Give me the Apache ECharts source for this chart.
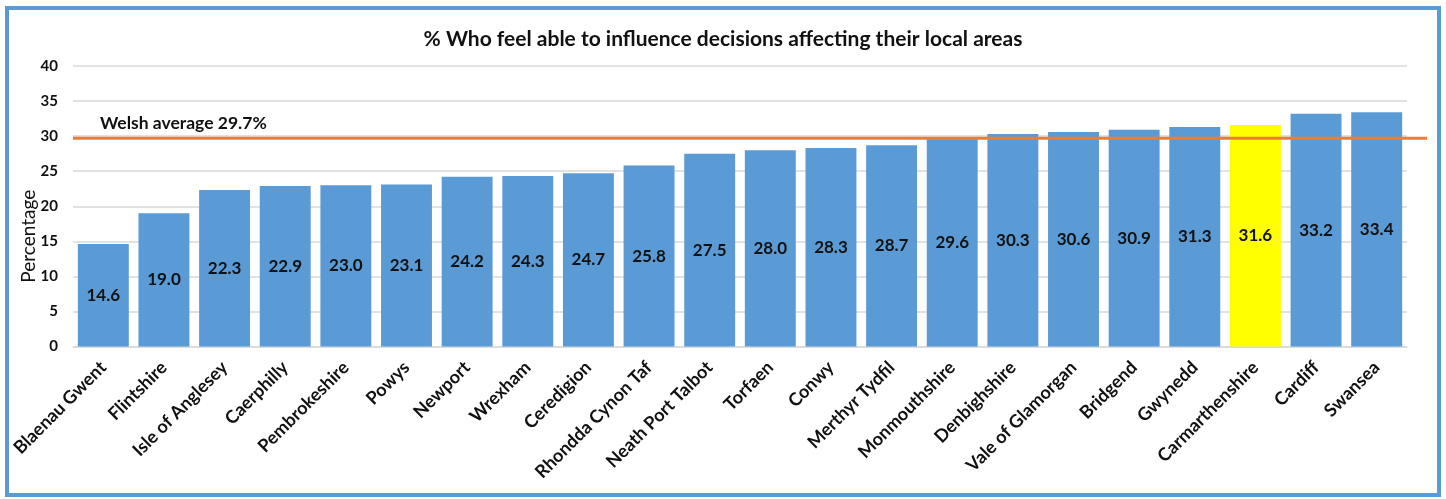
<!DOCTYPE html>
<html>
<head>
<meta charset="utf-8">
<script src="https://cdn.jsdelivr.net/npm/echarts@6/dist/echarts.min.js"></script>
<style>
html,body{margin:0;padding:0;background:#fff;}
#chart{width:1446px;height:499px;}
</style>
</head>
<body>
<div id="chart"></div>
<script>
const titleText = '% Who feel able to influence decisions affecting their local areas';
const categories = ['Blaenau Gwent','Flintshire','Isle of Anglesey','Caerphilly','Pembrokeshire','Powys','Newport','Wrexham','Ceredigion','Rhondda Cynon Taf','Neath Port Talbot','Torfaen','Conwy','Merthyr Tydfil','Monmouthshire','Denbighshire','Vale of Glamorgan','Bridgend','Gwynedd','Carmarthenshire','Cardiff','Swansea'];
const values = [14.6,19.0,22.3,22.9,23.0,23.1,24.2,24.3,24.7,25.8,27.5,28.0,28.3,28.7,29.6,30.3,30.6,30.9,31.3,31.6,33.2,33.4];
const highlighted = 'Carmarthenshire';
const welshAverage = 29.7;
const averageLabel = 'Welsh average 29.7%';
const yTicks = [0,5,10,15,20,25,30,35,40];

const FONT = 'Lato';
const chart = echarts.init(document.getElementById('chart'));
chart.setOption({
  animation: false,
  backgroundColor: '#fff',
  textStyle: {fontFamily: FONT},
  title: {
    text: titleText, left: 'center', top: 24,
    textStyle: {fontFamily: FONT, fontWeight: 'bold', fontSize: 21, color: '#111'}
  },
  graphic: [{
    type: 'rect', z: 100, silent: true,
    shape: {x: 7, y: 8, width: 1432, height: 487},
    style: {fill: 'none', stroke: '#5b9bd5', lineWidth: 4}
  }],
  grid: [
    {left: 73, right: 39, top: 66, bottom: 152.5},
    {left: 73, right: 19, top: 66, bottom: 152.5}
  ],
  xAxis: [{
    type: 'category', data: categories, gridIndex: 0,
    axisLine: {lineStyle: {color: '#d9d9d9', width: 1.5}},
    axisTick: {show: false},
    axisLabel: {rotate: 45, interval: 0, margin: 18, fontFamily: FONT, fontWeight: 'bold', fontSize: 18, color: '#111'}
  }, {
    type: 'value', gridIndex: 1, min: 0, max: 1, show: false
  }],
  yAxis: [{
    type: 'value', gridIndex: 0, min: yTicks[0], max: yTicks[yTicks.length-1], interval: 5,
    name: 'Percentage', nameLocation: 'middle', nameGap: 35, nameMoveOverlap: false,
    nameTextStyle: {fontFamily: FONT, fontSize: 19, color: '#111', padding: [0, 60, 0, 0]},
    axisLine: {show: false}, axisTick: {show: false},
    axisLabel: {margin: 15, fontFamily: FONT, fontWeight: 'bold', fontSize: 15, color: '#111'},
    splitLine: {lineStyle: {color: '#d9d9d9', width: 1.5}}
  }, {
    type: 'value', gridIndex: 1, min: yTicks[0], max: yTicks[yTicks.length-1], show: false
  }],
  series: [{
    type: 'bar', xAxisIndex: 0, yAxisIndex: 0,
    barCategoryGap: '16%',
    data: values.map((v, i) => ({
      value: v,
      itemStyle: {color: categories[i] === highlighted ? '#ffff00' : '#5b9bd5'}
    })),
    label: {
      show: true, position: 'inside',
      formatter: p => p.value.toFixed(1),
      fontFamily: FONT, fontWeight: 'bold', fontSize: 17, color: '#111'
    }
  }, {
    type: 'line', xAxisIndex: 1, yAxisIndex: 1, z: 10,
    symbol: 'circle', symbolSize: 0.01,
    lineStyle: {color: '#ed7d31', width: 3},
    itemStyle: {color: '#ed7d31'},
    data: [
      {value: [0, welshAverage], label: {
        show: true, position: 'right', offset: [22, -15],
        formatter: averageLabel,
        fontFamily: FONT, fontWeight: 'bold', fontSize: 17.5, color: '#111'
      }},
      {value: [1, welshAverage]}
    ]
  }]
});
</script>
</body>
</html>
